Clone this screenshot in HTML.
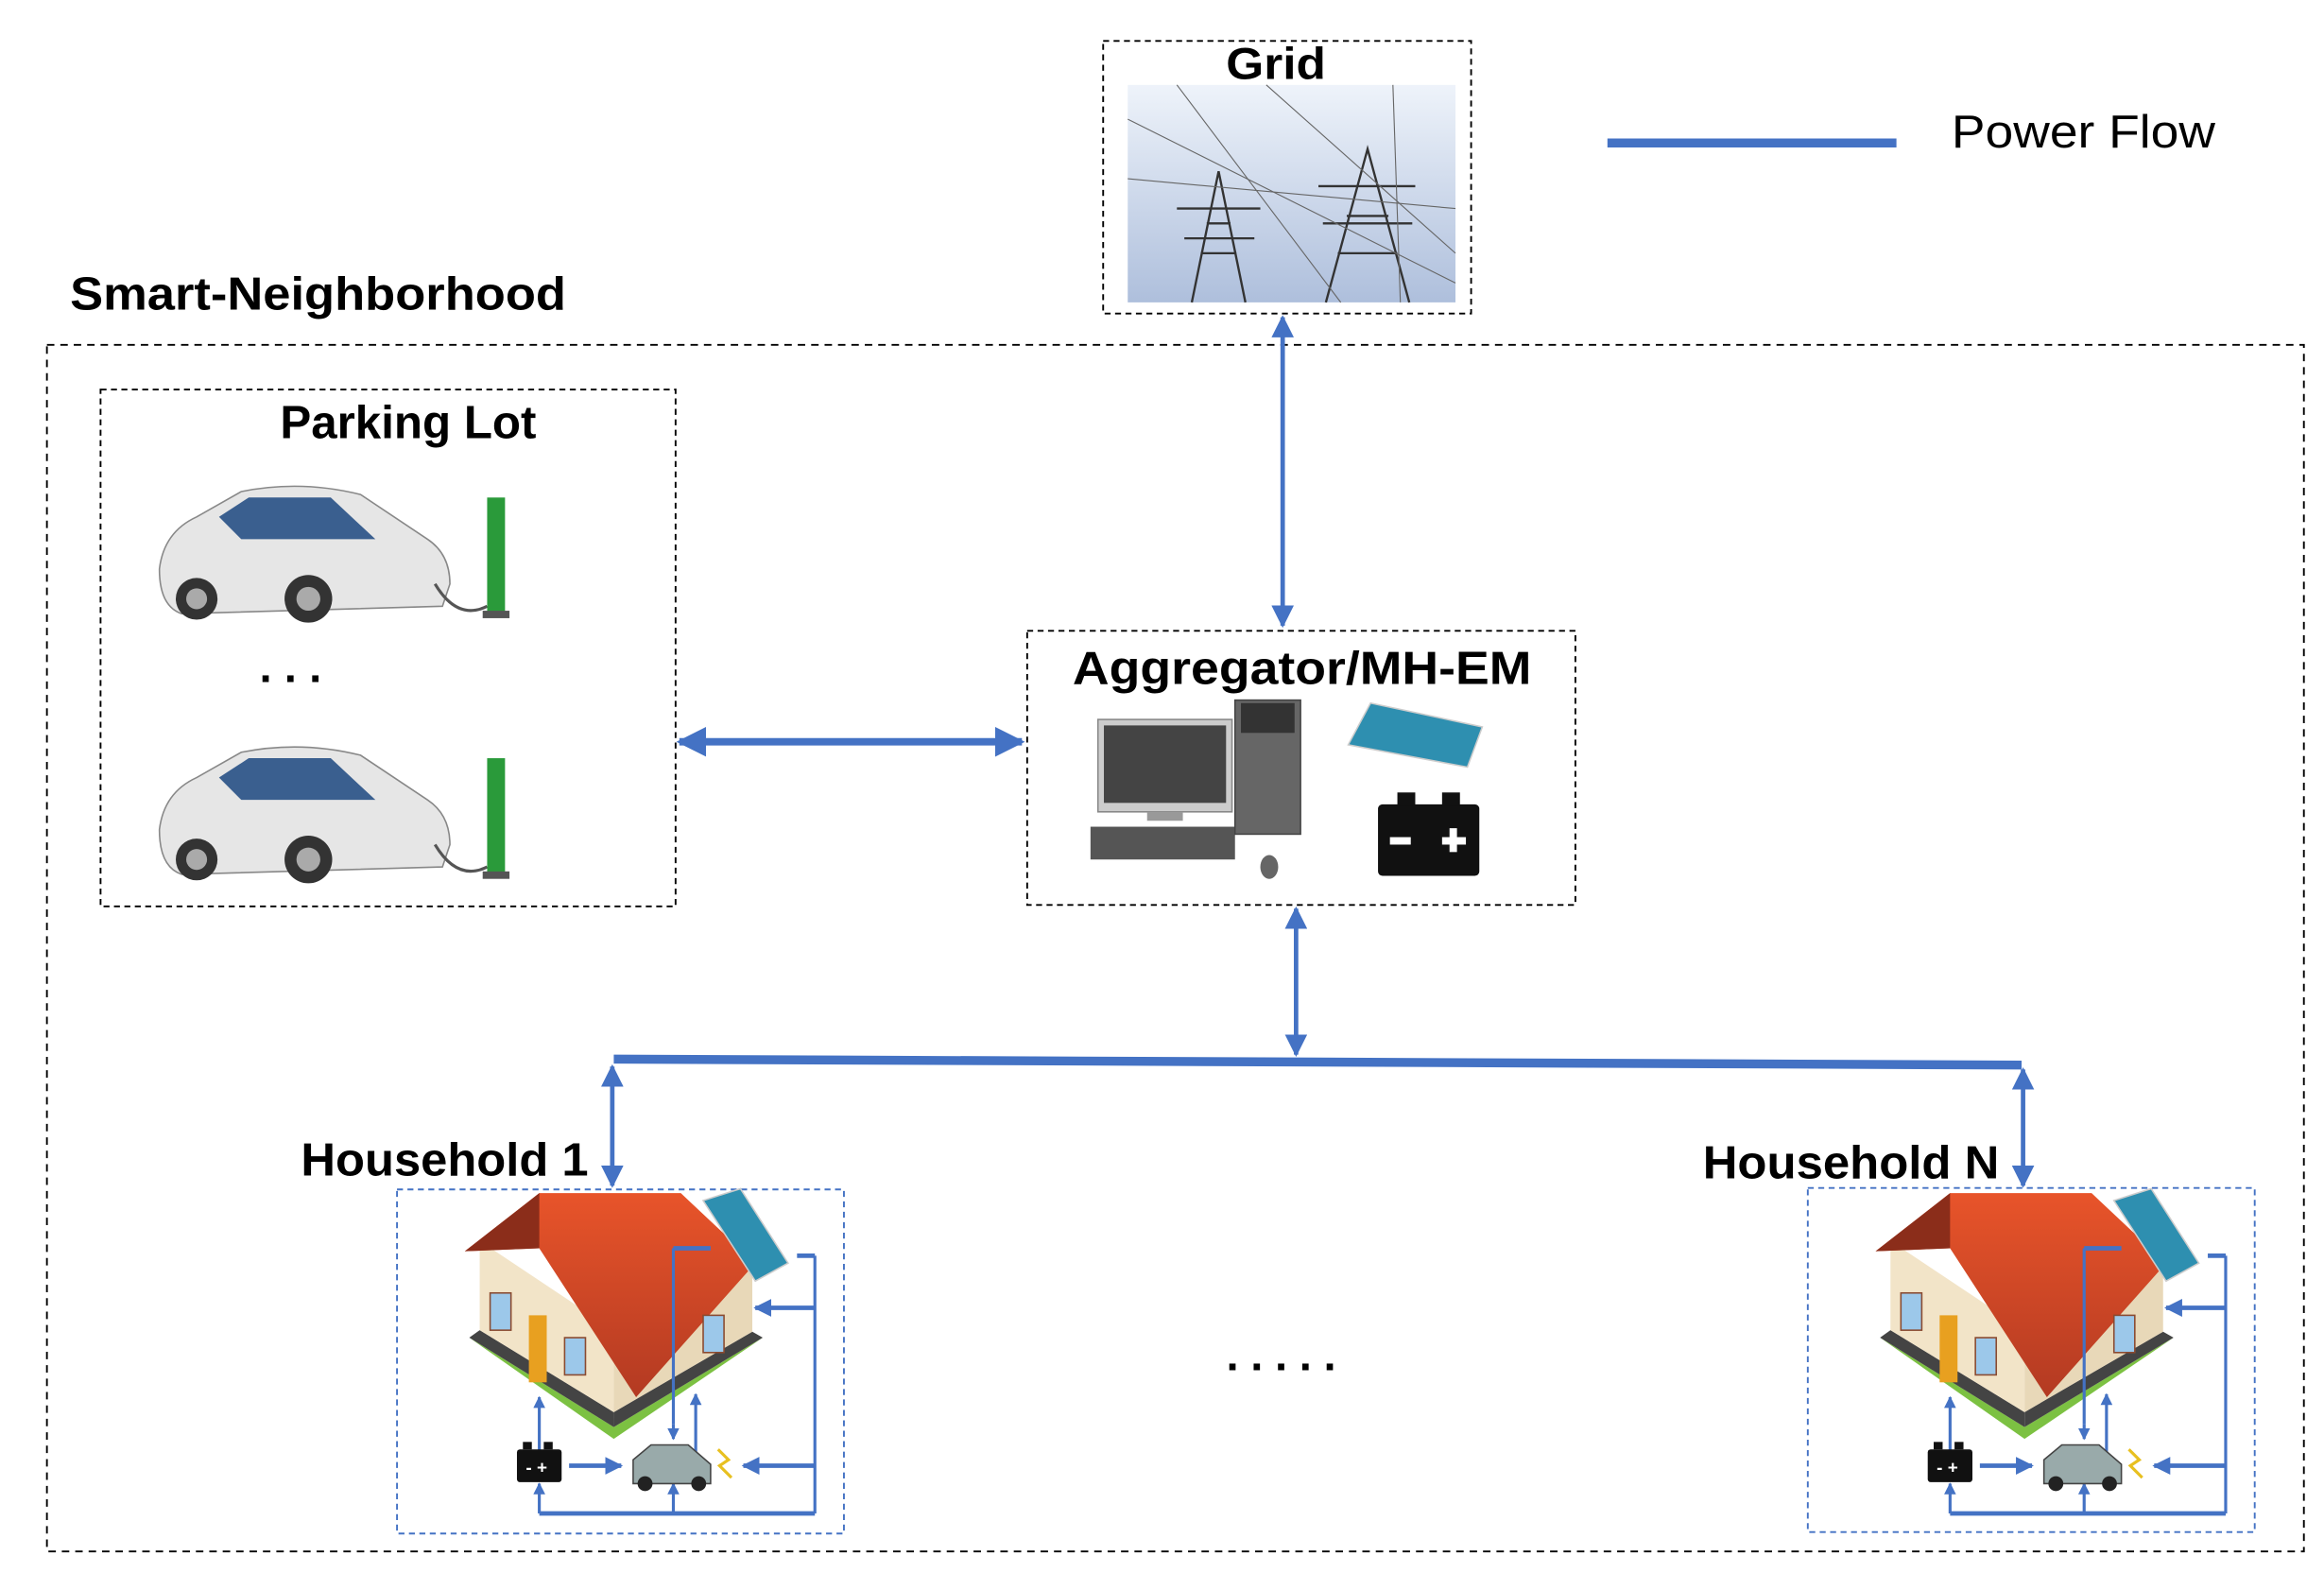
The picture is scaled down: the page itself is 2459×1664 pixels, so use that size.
<!DOCTYPE html>
<html><head><meta charset="utf-8"><style>
html,body{margin:0;padding:0;background:#fff}
svg{display:block}
text{font-family:"Liberation Sans",sans-serif}
</style></head><body>
<svg width="2459" height="1664" viewBox="0 0 1560 1056" preserveAspectRatio="none" xmlns="http://www.w3.org/2000/svg">
<defs>
<linearGradient id="sky" x1="0" y1="0" x2="0" y2="1"><stop offset="0" stop-color="#eef3fa"/><stop offset="1" stop-color="#aebfdc"/></linearGradient>
<linearGradient id="roof" x1="0" y1="0" x2="0" y2="1"><stop offset="0" stop-color="#e8542a"/><stop offset="1" stop-color="#b33a22"/></linearGradient>
<marker id="ah" viewBox="0 0 10 10" refX="9" refY="5" markerWidth="4" markerHeight="4" orient="auto-start-reverse"><path d="M0,0L10,5L0,10z" fill="#4472c4"/></marker>
<marker id="as" viewBox="0 0 10 10" refX="9" refY="5" markerWidth="5" markerHeight="5" orient="auto-start-reverse"><path d="M0,0L10,5L0,10z" fill="#4472c4"/></marker>
<g id="car">
<path d="M5,60 Q8,35 30,25 L60,8 Q100,0 140,10 L185,40 Q200,50 200,70 L195,85 L20,90 Q5,85 5,60z" fill="#e6e6e6" stroke="#888" stroke-width="1"/>
<path d="M45,25 L65,12 L120,12 L150,40 L60,40z" fill="#3a5f8f"/>
<circle cx="30" cy="80" r="14" fill="#333"/><circle cx="30" cy="80" r="7" fill="#aaa"/>
<circle cx="105" cy="80" r="16" fill="#333"/><circle cx="105" cy="80" r="8" fill="#aaa"/>
<path d="M190,70 Q205,95 225,85" fill="none" stroke="#555" stroke-width="2"/>
<rect x="225" y="12" width="12" height="80" fill="#2a9a3a"/><rect x="222" y="88" width="18" height="5" fill="#555"/>
</g>
<g id="house">
<polygon points="48,100 145,160 245,100 145,168" fill="#7cc142"/>
<polygon points="48,100 145,160 145,150 55,95" fill="#444"/>
<polygon points="145,160 245,100 238,96 145,150" fill="#444"/>
<polygon points="55,35 145,95 145,150 55,95" fill="#f2e4c8"/>
<polygon points="145,95 238,50 238,96 145,150" fill="#e8d8b8"/>
<polygon points="45,42 95,3 190,3 240,50 160,140 95,40" fill="url(#roof)"/>
<polygon points="95,40 45,42 95,3" fill="#8b2d1a"/>
<rect x="88" y="85" width="12" height="45" fill="#e8a020"/>
<rect x="62" y="70" width="14" height="25" fill="#9cc8ea" stroke="#8a4a30"/>
<rect x="112" y="100" width="14" height="25" fill="#9cc8ea" stroke="#8a4a30"/>
<rect x="205" y="85" width="14" height="25" fill="#9cc8ea" stroke="#8a4a30"/>
<polygon points="205,8 230,0 262,50 240,62" fill="#2e8fb0" stroke="#ccc"/>
</g>
<g id="hflow" stroke="#4472c4" fill="none">
<line x1="95" y1="180" x2="95" y2="140" stroke-width="2" marker-end="url(#ah)"/>
<line x1="185" y1="158" x2="185" y2="40" stroke-width="2"/><line x1="185" y1="40" x2="210" y2="40" stroke-width="3"/>
<line x1="185" y1="158" x2="185" y2="168" stroke-width="2" marker-end="url(#ah)"/>
<line x1="200" y1="178" x2="200" y2="138" stroke-width="2" marker-end="url(#ah)"/>
<line x1="280" y1="45" x2="280" y2="218" stroke-width="2"/><line x1="268" y1="45" x2="280" y2="45" stroke-width="3"/>
<line x1="280" y1="80" x2="240" y2="80" stroke-width="3" marker-end="url(#ah)"/>
<line x1="280" y1="186" x2="232" y2="186" stroke-width="3" marker-end="url(#ah)"/>
<line x1="115" y1="186" x2="150" y2="186" stroke-width="3" marker-end="url(#ah)"/>
<line x1="95" y1="218" x2="280" y2="218" stroke-width="3"/>
<line x1="95" y1="218" x2="95" y2="198" stroke-width="2" marker-end="url(#ah)"/>
<line x1="185" y1="218" x2="185" y2="198" stroke-width="2" marker-end="url(#ah)"/>
</g>
<g id="hicons">
<rect x="80" y="175" width="30" height="22" rx="2" fill="#111"/><rect x="84" y="170" width="6" height="5" fill="#111"/><rect x="98" y="170" width="6" height="5" fill="#111"/>
<text x="86" y="191" fill="#fff" font-size="12" font-weight="bold">- +</text>
<path d="M158,198 L158,182 L170,172 L195,172 L210,185 L210,198z" fill="#9aa" stroke="#444"/>
<circle cx="166" cy="198" r="5" fill="#222"/><circle cx="202" cy="198" r="5" fill="#222"/>
<path d="M215,175 L222,182 L216,186 L224,194" fill="none" stroke="#e8c020" stroke-width="2"/>
</g>
</defs>

<rect x="740.5" y="27.5" width="247" height="183" fill="none" stroke="#000" stroke-width="1.2" stroke-dasharray="4,3"/>
<text x="823" y="53" font-size="30" font-weight="bold" textLength="67" lengthAdjust="spacingAndGlyphs">Grid</text>
<rect x="757" y="57" width="220" height="146" fill="url(#sky)"/>
<g stroke="#333" stroke-width="1.5" fill="none">
<path d="M800,203 L818,115 L836,203 M806,170 L830,170 M810,150 L826,150 M790,140 L846,140 M795,160 L842,160"/>
<path d="M890,203 L918,100 L946,203 M898,170 L938,170 M904,145 L932,145 M885,125 L950,125 M888,150 L948,150"/>
</g>
<g stroke="#666" stroke-width="0.7"><line x1="757" y1="80" x2="977" y2="190"/><line x1="790" y1="57" x2="900" y2="203"/><line x1="850" y1="57" x2="977" y2="170"/><line x1="935" y1="57" x2="940" y2="203"/><line x1="757" y1="120" x2="977" y2="140"/></g>

<line x1="1079" y1="96" x2="1273" y2="96" stroke="#4472c4" stroke-width="6"/>
<text x="1310" y="99" font-size="31" textLength="177" lengthAdjust="spacingAndGlyphs">Power Flow</text>

<text x="47" y="208" font-size="31" font-weight="bold" textLength="333" lengthAdjust="spacingAndGlyphs">Smart-Neighborhood</text>
<rect x="31.5" y="231.5" width="1515" height="810" fill="none" stroke="#000" stroke-width="1.2" stroke-dasharray="5,4"/>

<rect x="67.5" y="261.5" width="386" height="347" fill="none" stroke="#000" stroke-width="1.2" stroke-dasharray="4,3"/>
<text x="188" y="294" font-size="31" font-weight="bold" textLength="172" lengthAdjust="spacingAndGlyphs">Parking Lot</text>
<use href="#car" x="102" y="322"/>
<text x="195" y="458" font-size="30" font-weight="bold" text-anchor="middle">. . .</text>
<use href="#car" x="102" y="497"/>

<rect x="689.5" y="423.5" width="368" height="184" fill="none" stroke="#000" stroke-width="1.2" stroke-dasharray="4,3"/>
<text x="720" y="459" font-size="31" font-weight="bold" textLength="308" lengthAdjust="spacingAndGlyphs">Aggregator/MH-EM</text>
<rect x="737" y="483" width="90" height="62" fill="#ccc" stroke="#888"/><rect x="741" y="487" width="82" height="52" fill="#444"/>
<rect x="770" y="545" width="24" height="6" fill="#999"/>
<rect x="732" y="555" width="97" height="22" fill="#555"/>
<rect x="829" y="470" width="44" height="90" fill="#666" stroke="#444"/><rect x="833" y="472" width="36" height="20" fill="#333"/>
<ellipse cx="852" cy="582" rx="6" ry="8" fill="#666"/>
<polygon points="920,472 995,488 985,515 905,500" fill="#2e8fb0" stroke="#ccc"/>
<rect x="925" y="540" width="68" height="48" rx="3" fill="#111"/><rect x="938" y="532" width="12" height="9" fill="#111"/><rect x="968" y="532" width="12" height="9" fill="#111"/>
<rect x="933" y="562" width="14" height="5" fill="#fff"/><rect x="968" y="562" width="16" height="5" fill="#fff"/><rect x="973" y="556" width="5" height="16" fill="#fff"/>

<line x1="861" y1="213" x2="861" y2="420" stroke="#4472c4" stroke-width="3" marker-start="url(#as)" marker-end="url(#as)"/>
<line x1="456" y1="498" x2="686" y2="498" stroke="#4472c4" stroke-width="5" marker-start="url(#ah)" marker-end="url(#ah)"/>
<line x1="870" y1="610" x2="870" y2="708" stroke="#4472c4" stroke-width="3" marker-start="url(#as)" marker-end="url(#as)"/>
<polygon points="412,708 1357,712 1357,718 412,714" fill="#4472c4"/>
<line x1="411" y1="716" x2="411" y2="796" stroke="#4472c4" stroke-width="3" marker-start="url(#as)" marker-end="url(#as)"/>
<line x1="1358" y1="718" x2="1358" y2="796" stroke="#4472c4" stroke-width="3" marker-start="url(#as)" marker-end="url(#as)"/>

<text x="202" y="789" font-size="31" font-weight="bold" textLength="193" lengthAdjust="spacingAndGlyphs">Household 1</text>
<text x="1143" y="791" font-size="31" font-weight="bold" textLength="199" lengthAdjust="spacingAndGlyphs">Household N</text>
<rect x="266.5" y="798.5" width="300" height="231" fill="none" stroke="#4472c4" stroke-width="1.2" stroke-dasharray="4,3"/>
<rect x="1213.5" y="797.5" width="300" height="231" fill="none" stroke="#4472c4" stroke-width="1.2" stroke-dasharray="4,3"/>
<g transform="translate(267,798)"><use href="#house"/><use href="#hflow"/><use href="#hicons"/></g>
<g transform="translate(1214,798)"><use href="#house"/><use href="#hflow"/><use href="#hicons"/></g>
<text x="864" y="920" font-size="30" font-weight="bold" text-anchor="middle" letter-spacing="8">.....</text>
</svg>
</body></html>
